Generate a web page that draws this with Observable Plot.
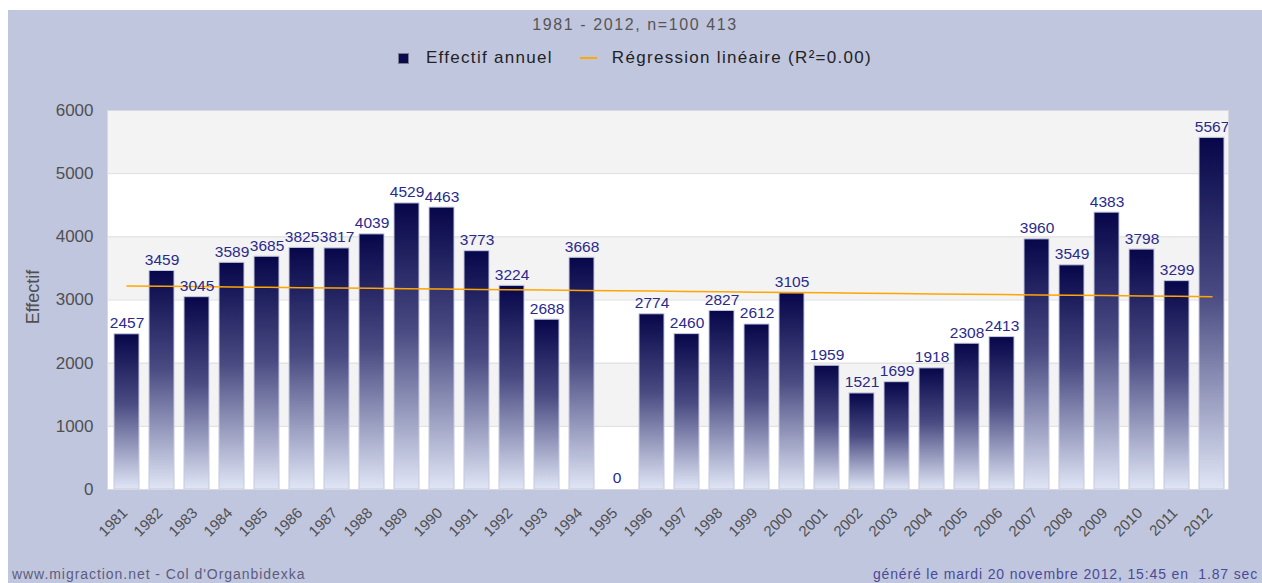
<!DOCTYPE html>
<html>
<head>
<meta charset="utf-8">
<script src="https://cdn.jsdelivr.net/npm/d3@7"></script>
<script src="https://cdn.jsdelivr.net/npm/@observablehq/plot@0.6"></script>
<style>
  html, body { margin: 0; padding: 0; background: #ffffff; }
  body { font-family: "Liberation Sans", Arial, sans-serif; }
  #panel { position: absolute; left: 8px; top: 10px; width: 1254px; height: 573px; background: #c1c6df; overflow: hidden; }
  #title { position: absolute; top: 6px; left: 0; width: 100%; text-align: center; font-size: 16px; color: #555; letter-spacing: 1.6px; }
  #legend { position: absolute; top: 38px; left: 0; width: 100%; display: flex; justify-content: center; align-items: center; font-size: 17px; color: #222; letter-spacing: 1.3px; }
  #legend .sw-bar { width: 9px; height: 9px; background: #0a0a4d; border: 1px solid #7a7a90; margin-right: 17px; }
  #legend .sw-line { width: 17px; height: 2px; background: #ffaa00; margin: 0 15px 0 27px; }
  #chart { position: absolute; left: 0; top: 80px; }
  #source { position: absolute; left: 4px; top: 556px; font-size: 14px; color: #5c5c7e; letter-spacing: 0.95px; }
  #stamp { position: absolute; right: 4px; top: 556px; font-size: 14px; color: #4a4a98; letter-spacing: 0.85px; }
</style>
</head>
<body>
<div id="panel">
  <div id="title">1981 - 2012, n=100 413</div>
  <div id="legend">
    <span class="sw-bar"></span><span>Effectif annuel</span>
    <span class="sw-line"></span><span>Régression linéaire (R²=0.00)</span>
  </div>
  <div id="chart"></div>
  <div id="source">www.migraction.net - Col d'Organbidexka</div>
  <div id="stamp">généré le mardi 20 novembre 2012, 15:45 en&nbsp; 1.87 sec</div>
</div>
<script>
// Yearly counts at the Col d'Organbidexka
const years = ["1981","1982","1983","1984","1985","1986","1987","1988","1989","1990",
  "1991","1992","1993","1994","1995","1996","1997","1998","1999","2000",
  "2001","2002","2003","2004","2005","2006","2007","2008","2009","2010","2011","2012"];
const counts = [2457,3459,3045,3589,3685,3825,3817,4039,4529,4463,
  3773,3224,2688,3668,0,2774,2460,2827,2612,3105,
  1959,1521,1699,1918,2308,2413,3960,3549,4383,3798,3299,5567];
const yTicks = [0,1000,2000,3000,4000,5000,6000];
// shaded horizontal bands of the plot background
const shadedBands = [[1000,2000],[3000,4000],[5000,6000]];

const rows = years.map((year, i) => ({year, count: counts[i]}));

// least-squares fit of the counts against the year index
const n = counts.length;
const meanX = (n - 1) / 2;
const meanY = d3.mean(counts);
let sxy = 0, sxx = 0;
counts.forEach((v, i) => { sxy += (i - meanX) * (v - meanY); sxx += (i - meanX) ** 2; });
const slope = sxy / sxx;
const intercept = meanY - slope * meanX;
const fitted = years.map((year, i) => ({year, fit: intercept + slope * i}));

const chart = Plot.plot({
  width: 1254,
  height: 460,
  marginTop: 20,
  marginBottom: 61,
  marginLeft: 99,
  marginRight: 34,
  style: {fontFamily: "'Liberation Sans', Arial, sans-serif", color: "#505050", background: "transparent"},
  x: {type: "band", domain: years, paddingInner: 0.29, paddingOuter: 0.15, align: 0.67, label: null},
  y: {domain: [0, 6000], label: null},
  marks: [
    Plot.frame({fill: "#ffffff"}),
    Plot.rectY(shadedBands, {y1: d => d[0], y2: d => d[1], fill: "#f3f3f3"}),
    Plot.ruleY(yTicks, {stroke: "#dddddd"}),
    Plot.barY(rows, {x: "year", y: "count", fill: "url(#barFade)", stroke: "#c4c8e0", strokeWidth: 1}),
    Plot.line(fitted, {x: "year", y: "fit", stroke: "#ffa500", strokeWidth: 1.5}),
    Plot.text(rows, {x: "year", y: "count", text: d => String(d.count), dy: -11, fill: "#2a2a8c", fontSize: 15.5}),
    Plot.frame({stroke: "#d8d8e0"}),
    Plot.axisY(yTicks, {tickSize: 0, tickPadding: 14, fontSize: 17, tickFormat: d => String(d), label: null}),
    Plot.axisX({tickRotate: -45, tickSize: 0, tickPadding: 21, fontSize: 15, dx: -2, label: null}),
    Plot.text(["Effectif"], {frameAnchor: "left", textAnchor: "middle", lineAnchor: "middle", dx: -74, dy: -3, rotate: -90, fontSize: 18, fill: "#505050", letterSpacing: "1.2px"})
  ]
});

// vertical fade used by every bar, dark navy at the top to pale lavender at the base
const grad = d3.select(chart).insert("defs", ":first-child")
  .append("linearGradient")
  .attr("id", "barFade")
  .attr("x1", 0).attr("y1", 0).attr("x2", 0).attr("y2", 1);
grad.append("stop").attr("offset", "0%").attr("stop-color", "#06064a");
grad.append("stop").attr("offset", "45%").attr("stop-color", "#4a4b82");
grad.append("stop").attr("offset", "100%").attr("stop-color", "#e0e6f6");

document.getElementById("chart").appendChild(chart);
</script>
</body>
</html>
